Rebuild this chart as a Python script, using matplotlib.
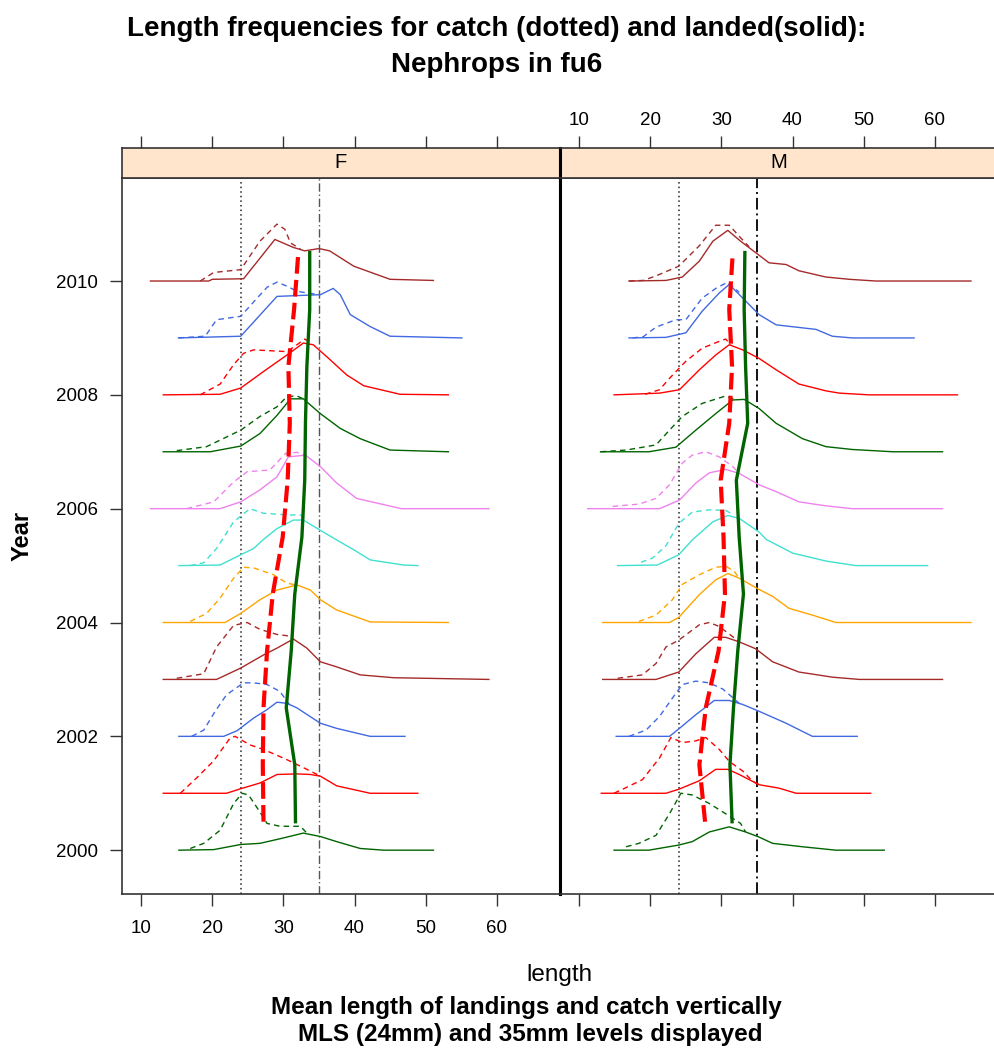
import numpy as np
import matplotlib
matplotlib.use("Agg")
import matplotlib.pyplot as plt

plt.rcParams['font.family'] = ['Liberation Sans', 'DejaVu Sans']

years = list(range(2000, 2011))
colours = ['darkgreen', 'red', 'royalblue', 'brown', 'orange', 'turquoise',
           'violet', 'darkgreen', 'red', 'royalblue', 'brown']

# length frequency curves: year -> (lengths, relative height)
F_landed = {
    2000: ([15.3, 20.2, 24.0, 26.7, 29.5, 32.8, 35.2, 37.5, 40.8, 44.1, 51.1],
           [0, 0.01, 0.10, 0.12, 0.20, 0.30, 0.24, 0.15, 0.03, 0, 0]),
    2001: ([13.1, 22.0, 24.0, 26.7, 29.1, 31.9, 33.8, 35.2, 37.5, 42.2, 48.9],
           [0, 0, 0.08, 0.18, 0.33, 0.34, 0.33, 0.30, 0.13, 0, 0]),
    2002: ([15.3, 21.6, 23.5, 25.8, 27.7, 29.1, 30.5, 31.9, 35.2, 37.5, 42.2, 47.1],
           [0, 0, 0.10, 0.32, 0.47, 0.60, 0.58, 0.50, 0.23, 0.14, 0, 0]),
    2003: ([13.1, 20.6, 24.0, 27.2, 29.1, 31.4, 33.3, 35.2, 37.5, 40.8, 45.5, 58.9],
           [0, 0, 0.20, 0.43, 0.55, 0.71, 0.55, 0.31, 0.22, 0.08, 0.03, 0]),
    2004: ([13.1, 21.8, 24.0, 26.7, 29.1, 31.9, 33.8, 35.2, 37.5, 42.2, 53.2],
           [0, 0, 0.16, 0.40, 0.57, 0.66, 0.57, 0.40, 0.22, 0.01, 0]),
    2005: ([15.3, 21.1, 24.0, 25.8, 27.2, 29.1, 31.4, 32.8, 35.2, 37.5, 40.0, 42.2, 46.9, 48.9],
           [0, 0.01, 0.19, 0.30, 0.46, 0.65, 0.80, 0.80, 0.62, 0.45, 0.27, 0.10, 0.01, 0]),
    2006: ([11.3, 21.1, 24.0, 26.7, 29.1, 30.7, 33.1, 35.2, 37.5, 40.3, 46.6, 58.9],
           [0, 0, 0.12, 0.33, 0.56, 0.91, 0.94, 0.74, 0.45, 0.18, 0, 0]),
    2007: ([13.1, 19.7, 24.0, 26.7, 29.1, 31.0, 32.8, 35.2, 38.0, 40.8, 45.0, 53.2],
           [0, 0, 0.10, 0.32, 0.64, 0.93, 0.93, 0.67, 0.41, 0.23, 0.03, 0]),
    2008: ([13.1, 21.1, 24.0, 27.2, 30.5, 32.8, 34.2, 36.1, 38.9, 41.3, 46.4, 53.2],
           [0, 0.01, 0.12, 0.41, 0.70, 0.91, 0.88, 0.67, 0.35, 0.16, 0.01, 0]),
    2009: ([15.25, 24.0, 29.1, 35.2, 37.0, 38.0, 39.4, 42.2, 45.0, 55.1],
           [0, 0.03, 0.73, 0.76, 0.87, 0.76, 0.41, 0.20, 0.03, 0]),
    2010: ([11.3, 19.5, 20.0, 24.4, 28.8, 31.4, 33.0, 35.0, 36.5, 39.9, 45.0, 51.1],
           [0, 0, 0.03, 0.04, 0.73, 0.59, 0.53, 0.57, 0.53, 0.26, 0.03, 0.01]),
}
F_catch = {
    2000: ([16.9, 18.8, 21.1, 23.0, 24.2, 25.1, 26.7, 27.7, 29.5, 32.4, 33.3],
           [0.03, 0.12, 0.35, 0.82, 1.0, 0.97, 0.67, 0.47, 0.42, 0.42, 0.30]),
    2001: ([15.5, 17.8, 20.2, 22.5, 23.2, 25.3, 27.2, 30.5, 33.8, 35.2],
           [0, 0.27, 0.57, 0.97, 1.0, 0.85, 0.77, 0.59, 0.39, 0.30]),
    2002: ([17.1, 18.8, 20.4, 22.0, 24.4, 25.8, 27.7, 29.5, 30.9],
           [0, 0.11, 0.44, 0.73, 0.94, 0.94, 0.91, 0.79, 0.55]),
    2003: ([15.0, 18.8, 20.6, 23.0, 24.9, 26.7, 29.1, 31.0, 31.4],
           [0.02, 0.10, 0.57, 0.95, 1.0, 0.88, 0.79, 0.76, 0.71]),
    2004: ([16.9, 19.2, 21.1, 23.0, 24.4, 25.8, 28.6, 30.5, 31.9],
           [0.02, 0.16, 0.43, 0.78, 0.97, 0.96, 0.84, 0.69, 0.66]),
    2005: ([16.9, 18.8, 20.6, 23.0, 25.3, 27.2, 30.5, 32.4, 33.5],
           [0, 0.05, 0.30, 0.77, 1.0, 0.92, 0.89, 0.89, 0.80]),
    2006: ([16.4, 20.2, 23.0, 24.9, 28.1, 30.3, 31.9, 33.1],
           [0, 0.12, 0.47, 0.65, 0.68, 0.97, 0.99, 0.94]),
    2007: ([15.0, 19.2, 24.0, 26.7, 29.1, 30.5, 31.9, 32.8],
           [0.02, 0.09, 0.38, 0.62, 0.79, 0.97, 0.98, 0.93]),
    2008: ([18.3, 21.1, 23.0, 24.4, 25.8, 30.5, 31.9, 33.0, 34.0],
           [0, 0.19, 0.53, 0.73, 0.79, 0.76, 0.88, 0.98, 0.90]),
    2009: ([15.25, 19.0, 20.6, 24.0, 26.3, 27.7, 29.1, 30.5, 31.9, 33.3, 35.2],
           [0, 0.03, 0.32, 0.38, 0.70, 0.89, 0.98, 0.91, 0.82, 0.79, 0.76]),
    2010: ([18.3, 20.2, 24.0, 26.7, 29.1, 30.2, 31.0, 32.4],
           [0, 0.15, 0.20, 0.70, 1.0, 0.91, 0.67, 0.56]),
}
M_landed = {
    2000: ([14.9, 19.8, 24.0, 25.9, 28.3, 31.1, 33.4, 35.3, 37.2, 41.4, 46.1, 52.9],
           [0, 0, 0.09, 0.15, 0.32, 0.41, 0.32, 0.23, 0.12, 0.06, 0, 0]),
    2001: ([13.1, 22.2, 24.0, 26.9, 29.2, 30.9, 32.5, 35.3, 38.1, 40.5, 51.0],
           [0, 0, 0.07, 0.22, 0.42, 0.42, 0.33, 0.15, 0.09, 0, 0]),
    2002: ([15.2, 22.7, 24.0, 26.4, 29.0, 31.1, 33.0, 35.3, 39.1, 42.8, 49.1],
           [0, 0, 0.13, 0.38, 0.63, 0.63, 0.56, 0.44, 0.23, 0, 0]),
    2003: ([13.3, 20.8, 24.0, 26.4, 29.0, 30.6, 32.5, 34.8, 37.2, 40.9, 45.6, 49.4, 61.1],
           [0, 0, 0.13, 0.45, 0.74, 0.74, 0.66, 0.54, 0.31, 0.13, 0.04, 0, 0]),
    2004: ([13.3, 22.7, 24.0, 26.9, 29.2, 30.9, 32.5, 35.3, 37.2, 39.5, 42.8, 46.1, 65.1],
           [0, 0, 0.09, 0.49, 0.75, 0.86, 0.78, 0.58, 0.46, 0.25, 0.13, 0, 0]),
    2005: ([15.4, 21.0, 24.0, 25.9, 28.8, 30.9, 32.5, 35.3, 36.3, 40.0, 44.7, 48.9, 59.0],
           [0, 0.01, 0.19, 0.45, 0.77, 0.88, 0.83, 0.59, 0.46, 0.22, 0.08, 0, 0]),
    2006: ([11.2, 21.3, 24.1, 26.4, 28.3, 30.6, 32.5, 35.3, 37.7, 40.9, 44.7, 48.4, 61.1],
           [0, 0, 0.15, 0.45, 0.63, 0.69, 0.62, 0.42, 0.30, 0.12, 0.05, 0, 0]),
    2007: ([13.0, 19.8, 23.6, 26.4, 29.2, 31.6, 33.2, 35.3, 37.7, 41.4, 44.7, 48.4, 54.1, 61.1],
           [0, 0, 0.08, 0.38, 0.67, 0.91, 0.92, 0.76, 0.50, 0.23, 0.09, 0.04, 0, 0]),
    2008: ([14.9, 21.3, 24.1, 26.9, 29.2, 31.1, 33.0, 35.3, 37.7, 40.9, 44.7, 46.6, 50.8, 63.2],
           [0, 0.03, 0.09, 0.44, 0.70, 0.88, 0.79, 0.64, 0.44, 0.19, 0.07, 0.03, 0, 0]),
    2009: ([17.0, 22.2, 25.0, 27.3, 29.7, 31.1, 33.0, 35.3, 37.7, 43.3, 45.6, 48.4, 57.1],
           [0, 0.01, 0.09, 0.47, 0.79, 0.94, 0.70, 0.41, 0.23, 0.15, 0.03, 0, 0]),
    2010: ([17.0, 22.2, 24.5, 26.9, 28.8, 30.9, 32.7, 34.8, 36.7, 39.1, 40.9, 44.7, 48.0, 51.7, 65.1],
           [0, 0.01, 0.07, 0.35, 0.70, 0.89, 0.70, 0.50, 0.32, 0.29, 0.18, 0.07, 0.03, 0, 0]),
}
M_catch = {
    2000: ([16.6, 18.4, 20.8, 22.7, 24.3, 25.9, 28.3, 30.6, 32.7, 33.4],
           [0.06, 0.12, 0.26, 0.64, 1.0, 0.97, 0.82, 0.64, 0.47, 0.32]),
    2001: ([14.9, 16.6, 18.9, 21.3, 22.9, 24.5, 26.4, 27.8, 29.7, 31.1, 33.0, 34.4, 35.3],
           [0, 0.10, 0.24, 0.62, 0.98, 0.89, 0.92, 0.98, 0.77, 0.56, 0.39, 0.21, 0.15]),
    2002: ([17.0, 19.4, 21.3, 23.1, 24.5, 26.4, 28.3, 30.2, 31.6, 32.5],
           [0, 0.11, 0.35, 0.67, 0.91, 0.97, 0.94, 0.83, 0.68, 0.58]),
    2003: ([15.4, 18.9, 20.8, 22.2, 24.0, 26.9, 28.3, 29.7, 31.6, 32.5],
           [0.02, 0.08, 0.28, 0.57, 0.69, 0.96, 1.0, 0.93, 0.75, 0.66]),
    2004: ([18.4, 20.8, 23.1, 24.5, 26.9, 29.2, 30.6, 31.8, 32.5],
           [0.02, 0.13, 0.40, 0.67, 0.84, 0.97, 0.99, 0.90, 0.78]),
    2005: ([18.7, 20.3, 22.2, 24.0, 25.9, 28.3, 30.6, 31.6],
           [0.06, 0.13, 0.35, 0.74, 0.94, 0.98, 0.97, 0.90]),
    2006: ([14.7, 18.4, 20.8, 22.7, 24.5, 25.9, 27.8, 29.7, 31.6, 32.5],
           [0.04, 0.08, 0.18, 0.42, 0.80, 0.94, 1.0, 0.91, 0.74, 0.62]),
    2007: ([13.0, 16.6, 20.8, 22.7, 24.5, 27.3, 30.6, 31.8],
           [0, 0.03, 0.12, 0.38, 0.62, 0.85, 0.98, 0.92]),
    2008: ([19.3, 21.3, 22.7, 25.0, 27.3, 29.7, 30.6, 31.3],
           [0.01, 0.09, 0.29, 0.59, 0.82, 0.94, 0.98, 0.88]),
    2009: ([17.5, 19.0, 20.8, 23.6, 25.0, 27.3, 29.2, 30.9, 31.8, 32.5],
           [0, 0.02, 0.19, 0.32, 0.32, 0.70, 0.87, 0.98, 0.88, 0.80]),
    2010: ([17.0, 19.0, 20.8, 24.0, 26.9, 29.2, 31.1, 32.7, 33.9],
           [0, 0.01, 0.09, 0.26, 0.62, 0.98, 0.98, 0.76, 0.60]),
}

# mean lengths, drawn at year + 0.5
F_mean_landed = [31.7, 31.6, 30.4, 31.1, 31.6, 32.6, 33.0, 33.1, 33.3, 33.7, 33.7]
F_mean_catch = [27.2, 27.1, 27.2, 27.7, 28.5, 29.9, 30.6, 30.9, 30.7, 31.5, 32.1]
M_mean_landed = [31.5, 31.2, 31.7, 32.3, 33.1, 32.5, 32.1, 33.7, 33.4, 33.2, 33.3]
M_mean_catch = [27.7, 26.9, 27.8, 29.6, 30.5, 30.3, 29.9, 31.1, 31.5, 31.1, 31.6]

MLS = 24
upper = 35
xticks = [10, 20, 30, 40, 50, 60]

W, H = 994, 1048
fig = plt.figure(figsize=(W / 100, H / 100), dpi=100)

pw = 438 / W
bot = 1 - 894 / H
ph = (894 - 178) / H
sh = 30 / H
xlim = (7.3, 68.9)
ylim = (1999.23, 2011.81)

panels = [('F', 122 / W, F_landed, F_catch, F_mean_landed, F_mean_catch),
          ('M', 560 / W, M_landed, M_catch, M_mean_landed, M_mean_catch)]

for k, (name, left, landed, catch, mland, mcatch) in enumerate(panels):
    ax = fig.add_axes([left, bot, pw, ph])
    st = fig.add_axes([left, bot + ph, pw, sh])

    for i, yr in enumerate(years):
        c = colours[i]
        lc, hc = catch[yr]
        ax.plot(lc, yr + np.array(hc), color=c, lw=1.0, ls=(0, (4, 3)), zorder=2)
        ll, hl = landed[yr]
        ax.plot(ll, yr + np.array(hl), color=c, lw=1.0, zorder=3)

    yy = np.array(years) + 0.5
    ax.plot(mcatch, yy, color='red', lw=3.0, ls=(0, (4, 1.5)), zorder=5)
    ax.plot(mland, yy, color='darkgreen', lw=2.4, zorder=6)

    ax.axvline(MLS, color='#222222', lw=1.1, ls=(0, (1, 2)), zorder=1)
    ax.axvline(upper, color='#555555' if k == 0 else '#111111',
               lw=1.0 if k == 0 else 1.4, ls=(0, (6, 2, 1, 2)), zorder=1)

    ax.set_xlim(xlim)
    ax.set_ylim(ylim)
    st.set_xlim(xlim)
    st.set_ylim(0, 1)
    st.set_facecolor('#FFE5CC')
    st.text(np.mean(xlim), 0.5, name, ha='center', va='center', fontsize=14.5)
    st.set_yticks([])

    ax.set_xticks(xticks)
    st.set_xticks(xticks)
    ax.tick_params(axis='x', direction='out', length=8.6, width=1, color='#333333',
                   labelsize=13.5, pad=10, labelbottom=(k == 0))
    st.tick_params(axis='x', direction='out', length=8.6, width=1, color='#333333',
                   labelsize=13.5, pad=5, bottom=False, labelbottom=False,
                   top=True, labeltop=(k == 1))
    if k == 0:
        ax.set_yticks(range(2000, 2011, 2))
        ax.tick_params(axis='y', direction='out', length=8.6, width=1, color='#333333',
                       labelsize=13.5, pad=9)
    else:
        ax.set_yticks([])

    for a in (ax, st):
        for s in a.spines.values():
            s.set_color('#333333')
            s.set_linewidth(1.2)
        side = 'right' if k == 0 else 'left'
        a.spines[side].set_color('black')
        a.spines[side].set_linewidth(2.2)

fig.text(0.5, 1 - 36 / H, 'Length frequencies for catch (dotted) and landed(solid):',
         ha='center', va='baseline', fontsize=20, fontweight='bold')
fig.text(0.5, 1 - 72 / H, 'Nephrops in fu6',
         ha='center', va='baseline', fontsize=20, fontweight='bold')
fig.text(22 / W, 1 - 536 / H, 'Year', rotation=90, ha='center', va='center',
         fontsize=17, fontweight='bold')
fig.text(559 / W, 1 - 981 / H, 'length', ha='center', va='baseline', fontsize=17.5)
fig.text(526 / W, 1 - 1014 / H, 'Mean length of landings and catch vertically',
         ha='center', va='baseline', fontsize=17.5, fontweight='bold')
fig.text(530 / W, 1 - 1041 / H, 'MLS (24mm) and 35mm levels displayed',
         ha='center', va='baseline', fontsize=17.5, fontweight='bold')

fig.savefig('out.png', dpi=100)
